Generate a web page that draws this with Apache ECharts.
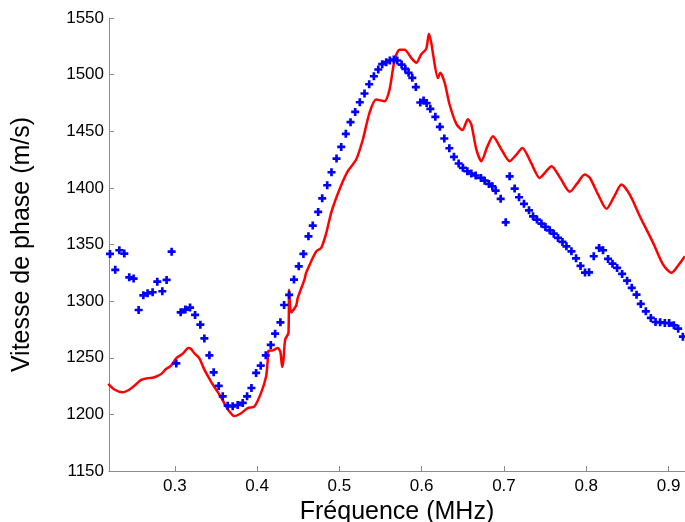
<!DOCTYPE html>
<html>
<head>
<meta charset="utf-8">
<script src="https://cdn.jsdelivr.net/npm/echarts@6/dist/echarts.min.js"></script>
<style>html,body{margin:0;padding:0;background:#fff}#c{width:685px;height:522px}</style>
</head>
<body>
<div id="c"></div>
<script>
// Red curve (model)
var freqRed = [0.219,0.2265,0.2365,0.245,0.252,0.259,0.267,0.274,0.2791,0.284,0.2893,0.2954,0.3015,0.3095,0.3164,0.32,0.3237,0.3298,0.3359,0.344,0.3501,0.3562,0.3643,0.3724,0.3805,0.3886,0.3967,0.4048,0.4109,0.4129,0.4137,0.419,0.4251,0.4283,0.4304,0.432,0.4341,0.4381,0.4389,0.4414,0.4474,0.4494,0.4575,0.4596,0.4718,0.4779,0.484,0.49,0.5001,0.5102,0.5204,0.5285,0.5366,0.5447,0.5549,0.561,0.5671,0.5731,0.5792,0.5873,0.5934,0.5995,0.6056,0.6088,0.6117,0.6136,0.6197,0.6226,0.6279,0.6339,0.6421,0.6494,0.6562,0.6603,0.6664,0.6725,0.6795,0.6866,0.6968,0.7069,0.7146,0.7224,0.733,0.7434,0.7505,0.7577,0.769,0.78,0.789,0.7982,0.8043,0.8145,0.8246,0.8337,0.8428,0.8529,0.8651,0.8813,0.8934,0.9036,0.9117,0.9198];
var vRed = [1227,1222,1219.5,1222,1226,1230.5,1232,1232.5,1234,1236,1240,1243,1249.5,1253.5,1258.5,1257.5,1254,1249.5,1239.5,1229,1222,1215,1204.5,1198.5,1201,1205.5,1207,1219,1233.5,1248,1256,1256.5,1258.5,1255,1242,1248,1266,1272,1310,1290,1296,1302.8,1319,1325,1344,1347,1360,1378,1398.5,1414.7,1425,1442.7,1466.3,1478,1476.5,1487,1513,1522,1522,1514.8,1510.4,1518,1523,1536,1528,1519,1497,1501.6,1493,1473.6,1456.5,1451,1460.5,1456,1434,1423.5,1436,1445.6,1434,1423.5,1429,1435.3,1422,1408.8,1414,1419.1,1408,1396.5,1404,1411.7,1409,1394,1381.5,1392,1402.9,1394,1375,1351.4,1332.2,1325,1331.4,1339.6];

// Blue crosses (measurements)
var freqBlue = [0.2212,0.2276,0.2325,0.2386,0.2446,0.2499,0.256,0.2617,0.2669,0.273,0.2787,0.2848,0.29,0.2961,0.3018,0.3071,0.3128,0.3185,0.3246,0.331,0.3359,0.342,0.3472,0.3533,0.3582,0.3642,0.3703,0.3764,0.3825,0.3878,0.3931,0.3988,0.4044,0.4105,0.4166,0.4219,0.4283,0.4328,0.4389,0.4448,0.4506,0.4563,0.4624,0.4676,0.4742,0.4791,0.4852,0.4904,0.4965,0.5022,0.5078,0.5135,0.5192,0.5248,0.5305,0.5362,0.5419,0.5472,0.552,0.5569,0.5613,0.5662,0.5703,0.5756,0.5801,0.5841,0.5886,0.5929,0.5983,0.6023,0.606,0.6105,0.6166,0.6221,0.6275,0.6336,0.6392,0.6449,0.6501,0.6555,0.6603,0.6656,0.672,0.6765,0.6817,0.6859,0.6899,0.696,0.7021,0.7069,0.713,0.7183,0.7243,0.7304,0.7353,0.7401,0.7455,0.7504,0.7556,0.7605,0.7657,0.7711,0.7759,0.782,0.7876,0.793,0.7985,0.8034,0.8091,0.8156,0.8204,0.8265,0.8319,0.8375,0.8436,0.8496,0.8553,0.8611,0.8663,0.8724,0.8785,0.8842,0.8898,0.8955,0.9007,0.9065,0.9117,0.9174];
var vBlue = [1341.7,1327.6,1344.9,1342,1321,1319.9,1292.2,1305.1,1306.9,1307.8,1317.2,1308.7,1318.7,1343.7,1245,1290.1,1292.5,1294.3,1287.8,1279.2,1267.1,1252.1,1237.1,1225.1,1215.9,1207.7,1207.1,1208.3,1210.1,1215.9,1223.3,1236.6,1243,1252.1,1261.3,1271.3,1281.3,1296.6,1305.5,1319,1330.7,1341.7,1357.2,1366.7,1378.8,1390.8,1402.3,1413.8,1425.9,1436.2,1447.7,1458,1467.1,1475.6,1483.3,1491.5,1498.6,1504.5,1509.2,1511,1512.5,1513.3,1512.5,1508.9,1505.1,1501.6,1497.2,1489,1475.4,1477.1,1474.9,1469.8,1462.7,1453.9,1443.6,1435,1427.4,1421.5,1417.7,1414.7,1412.6,1410.9,1408.8,1406.4,1403.5,1401.4,1397.6,1390.3,1369.6,1410.2,1399.4,1391.7,1385.9,1380.2,1374.9,1372,1368.5,1365.5,1362.5,1359.6,1355.8,1352.3,1348.4,1344,1337.8,1331.1,1325.2,1325.4,1339.6,1347,1344.9,1337.3,1333.1,1329.3,1324,1318.1,1311.7,1305.7,1297.5,1291,1285.2,1281.6,1281.3,1280.7,1280.7,1278.6,1275.7,1268.6];

var xTicks = [0.3,0.4,0.5,0.6,0.7,0.8,0.9];
var xTitle = 'Fréquence (MHz)';
var yTitle = 'Vitesse de phase (m/s)';

var font = 'Liberation Sans, Arial, Helvetica, sans-serif';
var chart = echarts.init(document.getElementById('c'), null, {renderer: 'canvas'});
chart.setOption({
  animation: false,
  backgroundColor: '#ffffff',
  grid: {left: 109, right: 0, top: 18, bottom: 51, containLabel: false, outerBoundsMode: 'none'},
  xAxis: {
    type: 'value', min: 0.22, max: 0.92,
    name: xTitle, nameLocation: 'middle', nameGap: 22,
    nameTextStyle: {fontSize: 25, color: '#000', fontFamily: font},
    axisLine: {show: true, onZero: false, lineStyle: {color: '#8c8c8c', width: 1}},
    axisTick: {show: true, inside: true, length: 5, customValues: xTicks, lineStyle: {color: '#8c8c8c'}},
    axisLabel: {customValues: xTicks, fontSize: 17, color: '#000', fontFamily: font, margin: 7,
      formatter: function (v) { return v.toFixed(1); }},
    splitLine: {show: false}
  },
  yAxis: {
    type: 'value', min: 1150, max: 1550, interval: 50,
    name: yTitle, nameLocation: 'middle', nameGap: 74, nameRotate: 90,
    nameTextStyle: {fontSize: 25, color: '#000', fontFamily: font},
    axisLine: {show: true, onZero: false, lineStyle: {color: '#8c8c8c', width: 1}},
    axisTick: {show: true, inside: true, length: 5, lineStyle: {color: '#8c8c8c'}},
    axisLabel: {fontSize: 17, color: '#000', fontFamily: font, margin: 5,
      formatter: function (v) { return String(v); }},
    splitLine: {show: false}
  },
  series: [
    {
      type: 'line', name: 'model', showSymbol: false, smooth: 0.25,
      data: freqRed.map(function (f, i) { return [f, vRed[i]]; }),
      lineStyle: {color: '#ff0000', width: 2.5}, itemStyle: {color: '#ff0000'},
      z: 2
    },
    {
      type: 'scatter', name: 'mesure',
      symbol: 'path://M2,0H4V2H6V4H4V6H2V4H0V2H2Z', symbolSize: 8,
      data: freqBlue.map(function (f, i) { return [f, vBlue[i]]; }),
      itemStyle: {color: '#0000ff', opacity: 1},
      z: 3
    }
  ]
});
</script>
</body>
</html>
